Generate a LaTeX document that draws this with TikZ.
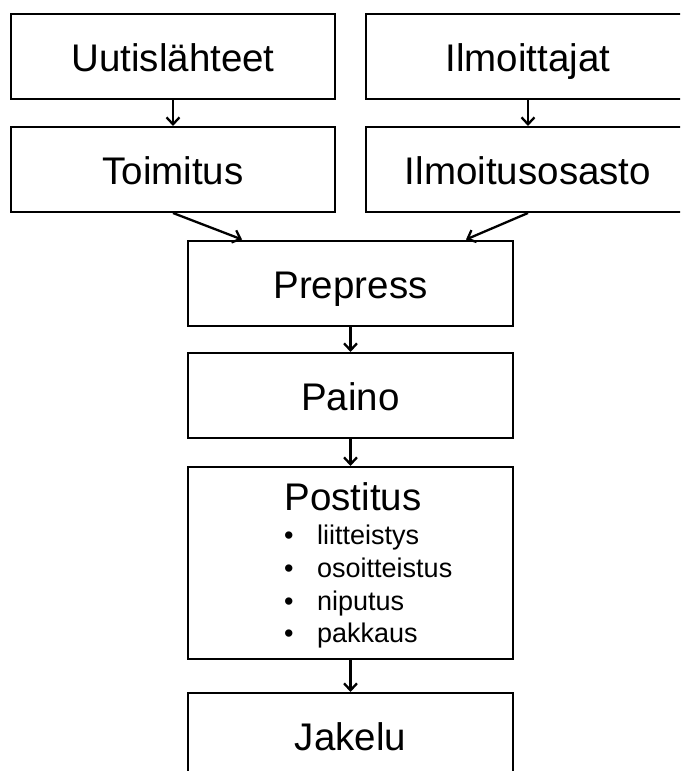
\documentclass[tikz,border=0pt]{standalone}
\usepackage{fontspec}
\setmainfont{Liberation Sans}
\usetikzlibrary{arrows.meta,calc}
\begin{document}
\begin{tikzpicture}[x=1pt,y=-1pt,
  stage/.style={draw=black,line width=2pt,minimum width=324pt,minimum height=85pt,
    inner sep=0pt,font=\fontsize{38.5}{46}\selectfont,text height=30.5pt,text depth=0pt},
  flow/.style={draw=black,line width=2.3pt,-{Straight Barb[length=7pt,width=13pt,line width=2.3pt]}},
  title/.style={anchor=base,inner sep=0pt,font=\fontsize{38.5}{46}\selectfont},
  item/.style={anchor=base west,inner sep=0pt,font=\fontsize{27}{32}\selectfont}]
\useasboundingbox (0,0) rectangle (680,771);
\clip (0,0) rectangle (680,771);

% sources
\node[stage] (src) at (173,56) {Uutislähteet};
\node[stage] (adv) at (528,56) {Ilmoittajat};
\node[stage] (edit) at (173,169.5) {Toimitus};
\node[stage] (addept) at (528,169.5) {Ilmoitusosasto};

% production chain
\node[stage,minimum width=325pt] (prepress) at (350.5,283) {Prepress};
\node[stage,minimum width=325pt] (paino) at (350.5,395.5) {Paino};
\node[stage,minimum width=325pt,minimum height=192pt] (postitus) at (350.5,563) {};
\node[title] (posttitle) at (353,510) {Postitus};
\node[item] (i1) at (284,544) {\makebox[33pt][l]{\textbullet}liitteistys};
\node[item] (i2) at (284,577) {\makebox[33pt][l]{\textbullet}osoitteistus};
\node[item] (i3) at (284,610) {\makebox[33pt][l]{\textbullet}niputus};
\node[item] (i4) at (284,642) {\makebox[33pt][l]{\textbullet}pakkaus};
\node[stage,minimum width=325pt] (jakelu) at (350.5,735.5) {Jakelu};

% entry points on the top edge of Prepress
\coordinate (pl) at ($(prepress.north west)+(55,0)$);
\coordinate (pr) at ($(prepress.north east)+(-48,0)$);

% connectors
\draw[flow] (src) -- (edit);
\draw[flow] (adv) -- (addept);
\draw[flow] (edit.south) -- (pl);
\draw[flow] (addept.south) -- (pr);
\draw[flow] (prepress) -- (paino);
\draw[flow] (paino) -- (postitus);
\draw[flow] (postitus) -- (jakelu);
\end{tikzpicture}
\end{document}
